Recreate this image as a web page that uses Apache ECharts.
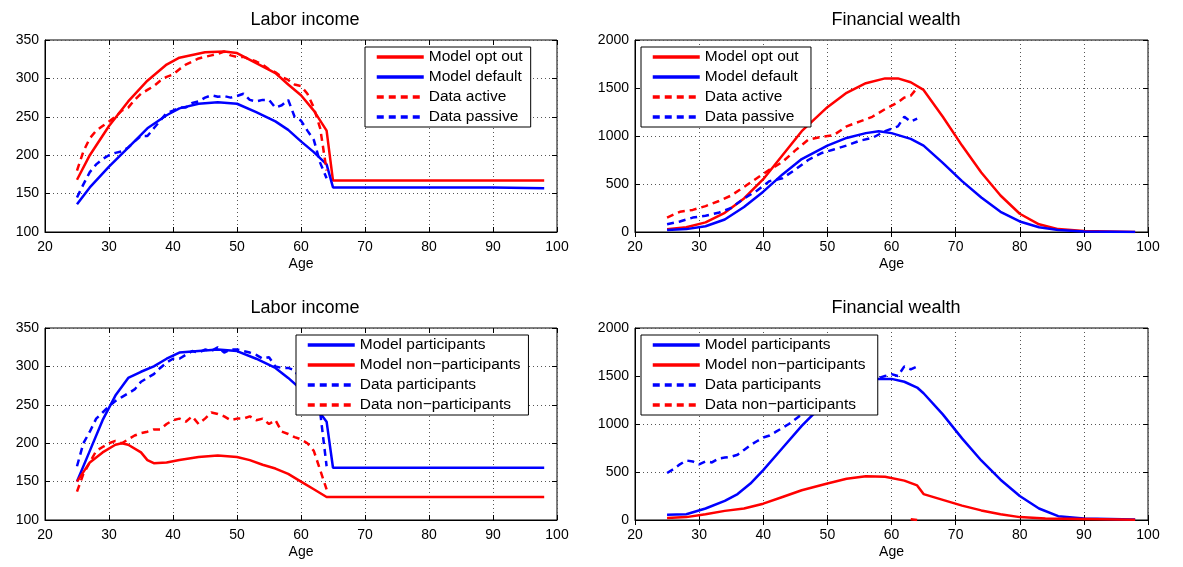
<!DOCTYPE html>
<html>
<head>
<meta charset="utf-8">
<title>Labor income / Financial wealth</title>
<script src="https://cdn.jsdelivr.net/npm/echarts@6/dist/echarts.min.js"></script>
<style>body{margin:0;background:#fff}#main{width:1183px;height:567px}</style>
</head>
<body>
<div id="main"></div>
<script>
// model ages / values (sparse knots)
var tlOptAge = [25,27,30,33,36,39,41,45,48,50,53,56,58,60,62,64,65,70,80,90,98];
var tlOptVal = [168,200,238,270,297,318,327,334,335,333,320,307,292,278,258,232,167,167,167,167,167];
var tlDefAge = [25,27,30,33,36,39,41,44,47,50,53,56,58,60,62,64,65,70,80,90,98];
var tlDefVal = [136,158,185,210,235,252,261,267,269,267,256,244,233,218,204,188,158,158,158,158,157];
// data series: yearly ages 25..64
var dataAges = [25,26,27,28,29,30,31,32,33,34,35,36,37,38,39,40,41,42,43,44,45,46,47,48,49,50,51,52,53,54,55,56,57,58,59,60,61,62,63,64];
var tlActive = [180,205,222,232,238,244,250,258,262,272,280,285,290,297,302,305,312,318,322,326,328,330,332,335,330,328,328,325,322,318,312,308,302,298,292,290,280,262,235,180];
var tlPassive = [145,162,178,188,195,200,203,205,210,218,225,225,235,245,255,258,262,262,268,270,275,278,276,277,275,277,280,272,270,272,272,262,265,272,250,245,232,220,190,170];

var trOptAge = [25,28,31,34,37,40,43,46,50,53,56,59,61,63,65,68,71,74,77,80,83,86,90,98];
var trOptVal = [30,50,100,200,350,550,800,1050,1300,1450,1550,1600,1600,1560,1480,1200,900,620,380,190,80,30,10,0];
var trDefAge = [25,28,31,34,37,40,43,46,50,53,56,58,60,63,65,68,71,74,77,80,83,86,90,98];
var trDefVal = [20,30,60,130,260,420,600,760,900,980,1030,1050,1030,970,900,720,530,360,210,110,50,20,5,0];
var trDataAge = [25,27,29,31,33,35,37,39,41,43,45,47,49,51,53,55,57,59,61,62,63,64];
var trActive = [150,210,230,270,320,380,470,560,650,730,850,960,990,1010,1100,1150,1200,1280,1350,1400,1420,1500];
var trPassive = [80,110,150,170,200,250,350,430,530,560,650,750,820,860,900,950,980,1050,1100,1200,1150,1180];

var blPartAge = [25,27,29,31,33,35,37,39,41,44,47,50,53,56,58,60,62,64,65,70,80,90,98];
var blPartVal = [150,190,230,262,285,293,300,310,318,320,322,320,310,298,285,270,250,228,168,168,168,168,168];
var blNonAge = [25,27,29,31,32,33,35,36,37,39,41,44,47,50,52,54,56,58,60,62,64,65,70,80,90,98];
var blNonVal = [150,175,188,198,200,198,188,178,174,175,178,182,184,182,178,172,167,160,150,140,130,130,130,130,130,130];
var blDataPart = [170,200,215,232,240,248,255,260,265,270,280,285,290,298,305,310,310,315,320,318,322,320,325,318,322,322,320,318,315,310,312,300,298,298,295,282,265,250,240,170];
var blDataNon = [137,160,175,190,195,200,203,200,205,210,213,215,218,218,225,230,232,228,235,225,232,240,238,235,230,232,232,235,230,232,225,230,215,212,208,205,200,190,165,140];

var brPartAge = [25,28,31,34,36,38,40,43,46,50,54,57,60,62,64,65,68,71,74,77,80,83,86,90,98];
var brPartVal = [55,60,120,200,270,380,520,750,980,1250,1420,1470,1470,1440,1380,1320,1100,850,620,420,250,120,40,15,5];
var brNonAge = [25,28,31,34,37,40,43,46,50,53,56,59,62,64,65,68,71,74,77,80,84,90,98];
var brNonVal = [20,30,60,95,120,170,240,310,380,430,455,450,410,360,270,210,150,100,60,30,15,10,2];
var brDataPart = [490,530,580,620,610,580,610,600,640,650,660,680,730,780,820,860,880,920,960,1000,1050,1100,1150,1190,1230,1270,1300,1330,1360,1390,1410,1430,1450,1480,1500,1520,1500,1600,1570,1600];
var brNonDataAge = [63,64];
var brNonData = [8,0];

function pairs(xs, ys) { return xs.map(function (x, i) { return [x, ys[i]]; }); }

var RED = '#ff0000', BLUE = '#0000ff';
var font = 'Liberation Sans, Arial, sans-serif';

function line(name, idx, xs, ys, color, dashed) {
  return {
    name: name, type: 'line', xAxisIndex: idx, yAxisIndex: idx,
    data: pairs(xs, ys), showSymbol: false, symbol: 'none', silent: true,
    lineStyle: { color: color, width: 2.5, type: dashed ? [7, 5] : 'solid' },
    itemStyle: { color: color }
  };
}

var grids = [
  { left: 45, top: 40, width: 512, height: 192 },
  { left: 635, top: 40, width: 513, height: 192 },
  { left: 45, top: 328, width: 512, height: 192 },
  { left: 635, top: 328, width: 513, height: 192 }
];
var yMax = [350, 2000, 350, 2000], yMin = [100, 0, 100, 0], yInt = [50, 500, 50, 500];

var gridLine = { show: true, lineStyle: { color: '#555', type: [1, 3] } };
var xAxes = [], yAxes = [];
for (var i = 0; i < 4; i++) {
  grids[i].show = true; grids[i].borderColor = '#000'; grids[i].borderWidth = 1;
  xAxes.push({
    type: 'value', gridIndex: i, min: 20, max: 100, interval: 10,
    name: 'Age', nameLocation: 'middle', nameGap: 25,
    nameTextStyle: { fontFamily: font, fontSize: 14, color: '#000' },
    axisLine: { lineStyle: { color: '#000' } },
    axisTick: { inside: true, length: 5, lineStyle: { color: '#000' } },
    axisLabel: { fontFamily: font, fontSize: 14, color: '#000', margin: 8 },
    splitLine: gridLine
  });
  yAxes.push({
    type: 'value', gridIndex: i, min: yMin[i], max: yMax[i], interval: yInt[i],
    axisLine: { show: true, lineStyle: { color: '#000' } },
    axisTick: { show: true, inside: true, length: 5, lineStyle: { color: '#000' } },
    axisLabel: { fontFamily: font, fontSize: 14, color: '#000', margin: 6, formatter: function (v) { return String(v); } },
    splitLine: gridLine
  });
}
// mirrored ticks on top and right edges
for (var j = 0; j < 4; j++) {
  xAxes.push({ type: 'value', gridIndex: j, position: 'top', min: 20, max: 100, interval: 10,
    axisLine: { show: false }, axisTick: { inside: true, length: 5, lineStyle: { color: '#000' } },
    axisLabel: { show: false }, splitLine: { show: false } });
  yAxes.push({ type: 'value', gridIndex: j, position: 'right', min: yMin[j], max: yMax[j], interval: yInt[j],
    axisLine: { show: false }, axisTick: { show: true, inside: true, length: 5, lineStyle: { color: '#000' } },
    axisLabel: { show: false }, splitLine: { show: false } });
}

function legend(names, left, top) {
  return {
    data: names, left: left, top: top, orient: 'vertical',
    backgroundColor: '#fff', borderColor: '#000', borderWidth: 1,
    padding: [2, 8, 2, 10], itemGap: 4, itemWidth: 47, itemHeight: 15,
    itemStyle: { color: 'transparent', borderWidth: 0 },
    lineStyle: { width: 3.5 },
    textStyle: { fontFamily: font, fontSize: 15.5, color: '#000' }
  };
}

var chart = echarts.init(document.getElementById('main'));
var tStyle = { fontFamily: font, fontSize: 18, fontWeight: 'normal', color: '#000' };
chart.setOption({
  animation: false,
  title: [
    { text: 'Labor income', left: 300, top: 6, textAlign: 'center', textStyle: tStyle },
    { text: 'Financial wealth', left: 891, top: 6, textAlign: 'center', textStyle: tStyle },
    { text: 'Labor income', left: 300, top: 294, textAlign: 'center', textStyle: tStyle },
    { text: 'Financial wealth', left: 891, top: 294, textAlign: 'center', textStyle: tStyle }
  ],
  grid: grids, xAxis: xAxes, yAxis: yAxes,
  legend: [
    legend(['Model opt out', 'Model default', 'Data active', 'Data passive'], 365, 47),
    legend(['Model opt out ', 'Model default ', 'Data active ', 'Data passive '], 641, 47),
    legend(['Model participants', 'Model non\u2212participants', 'Data participants', 'Data non\u2212participants'], 296, 335),
    legend(['Model participants ', 'Model non\u2212participants ', 'Data participants ', 'Data non\u2212participants '], 641, 335)
  ],
  series: [
    line('Model opt out', 0, tlOptAge, tlOptVal, RED, false),
    line('Model default', 0, tlDefAge, tlDefVal, BLUE, false),
    line('Data active', 0, dataAges, tlActive, RED, true),
    line('Data passive', 0, dataAges, tlPassive, BLUE, true),
    line('Model opt out ', 1, trOptAge, trOptVal, RED, false),
    line('Model default ', 1, trDefAge, trDefVal, BLUE, false),
    line('Data active ', 1, trDataAge, trActive, RED, true),
    line('Data passive ', 1, trDataAge, trPassive, BLUE, true),
    line('Model participants', 2, blPartAge, blPartVal, BLUE, false),
    line('Model non\u2212participants', 2, blNonAge, blNonVal, RED, false),
    line('Data participants', 2, dataAges, blDataPart, BLUE, true),
    line('Data non\u2212participants', 2, dataAges, blDataNon, RED, true),
    line('Model participants ', 3, brPartAge, brPartVal, BLUE, false),
    line('Model non\u2212participants ', 3, brNonAge, brNonVal, RED, false),
    line('Data participants ', 3, dataAges, brDataPart, BLUE, true),
    line('Data non\u2212participants ', 3, brNonDataAge, brNonData, RED, true)
  ]
});
</script>
</body>
</html>
